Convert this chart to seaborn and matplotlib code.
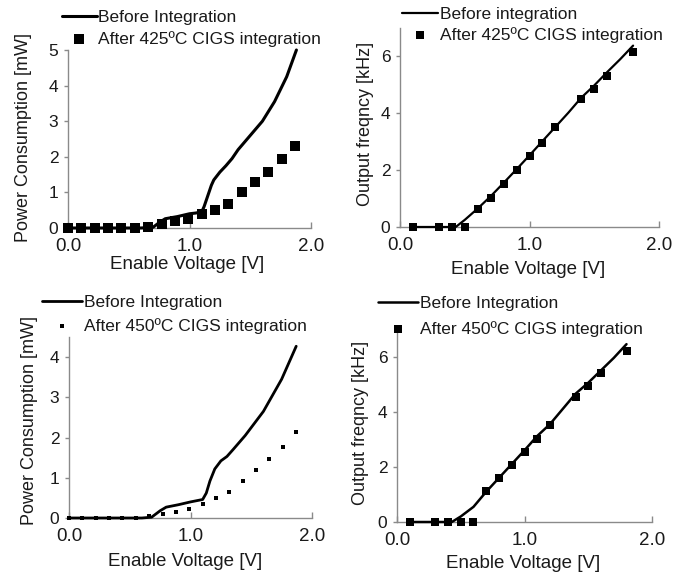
import matplotlib
matplotlib.use("Agg")
import matplotlib.pyplot as plt
import numpy as np
import pandas as pd
import seaborn as sns

# ---------------- data ----------------
# Top-left: power consumption, 425 C
p1_line_v = [0.0, 0.1, 0.2, 0.3, 0.4, 0.5, 0.6, 0.7, 0.75, 0.8, 0.9, 1.0, 1.05, 1.1, 1.12, 1.15, 1.18, 1.2, 1.25, 1.3, 1.35, 1.4, 1.5, 1.6, 1.7, 1.8, 1.88]
p1_line_p = [0, 0, 0, 0, 0, 0, 0, 0.02, 0.15, 0.26, 0.32, 0.40, 0.42, 0.45, 0.60, 0.90, 1.20, 1.35, 1.57, 1.75, 1.95, 2.2, 2.6, 3.0, 3.55, 4.25, 5.0]
p1_sq_v = [0.0, 0.11, 0.22, 0.33, 0.44, 0.55, 0.66, 0.77, 0.88, 0.99, 1.1, 1.21, 1.32, 1.43, 1.54, 1.65, 1.76, 1.87]
p1_sq_p = [0, 0, 0, 0, 0, 0, 0.02, 0.12, 0.19, 0.25, 0.40, 0.51, 0.67, 1.01, 1.28, 1.58, 1.93, 2.29]

# Top-right: output frequency, 425 C
p2_line_v = [0.1, 0.3, 0.4, 0.43, 0.5, 0.6, 0.7, 0.8, 0.9, 1.0, 1.1, 1.2, 1.3, 1.4, 1.5, 1.6, 1.7, 1.8]
p2_line_f = [0, 0, 0, 0, 0.25, 0.65, 1.08, 1.55, 2.03, 2.52, 3.02, 3.52, 4.02, 4.55, 4.98, 5.45, 5.9, 6.38]
p2_sq_v = [0.1, 0.3, 0.4, 0.5, 0.6, 0.7, 0.8, 0.9, 1.0, 1.1, 1.2, 1.4, 1.5, 1.6, 1.8]
p2_sq_f = [0, 0, 0, 0, 0.63, 1.03, 1.51, 2.0, 2.5, 2.97, 3.5, 4.5, 4.87, 5.32, 6.17]

# Bottom-left: power consumption, 450 C
p3_line_v = [0.0, 0.1, 0.2, 0.3, 0.4, 0.5, 0.6, 0.68, 0.75, 0.8, 0.9, 1.0, 1.05, 1.1, 1.13, 1.16, 1.2, 1.25, 1.3, 1.35, 1.45, 1.6, 1.75, 1.87]
p3_line_p = [0, 0, 0, 0, 0, 0, 0, 0.02, 0.18, 0.27, 0.33, 0.40, 0.43, 0.46, 0.62, 0.92, 1.22, 1.42, 1.53, 1.70, 2.05, 2.65, 3.45, 4.27]
p3_sq_v = [0.0, 0.11, 0.22, 0.33, 0.44, 0.55, 0.66, 0.77, 0.88, 0.99, 1.1, 1.21, 1.32, 1.43, 1.54, 1.65, 1.76, 1.87]
p3_sq_p = [0, 0, 0, 0, 0, 0, 0.05, 0.10, 0.15, 0.23, 0.35, 0.50, 0.64, 0.93, 1.19, 1.47, 1.76, 2.13]

# Bottom-right: output frequency, 450 C
p4_line_v = [0.1, 0.3, 0.4, 0.43, 0.5, 0.6, 0.7, 0.8, 0.9, 1.0, 1.1, 1.2, 1.3, 1.4, 1.5, 1.6, 1.7, 1.8]
p4_line_f = [0, 0, 0, 0, 0.2, 0.55, 1.1, 1.6, 2.1, 2.6, 3.12, 3.55, 4.1, 4.65, 5.05, 5.5, 5.95, 6.45]
p4_sq_v = [0.1, 0.3, 0.4, 0.5, 0.6, 0.7, 0.8, 0.9, 1.0, 1.1, 1.2, 1.4, 1.5, 1.6, 1.8]
p4_sq_f = [0, 0, 0, 0, 0, 1.11, 1.59, 2.08, 2.54, 3.02, 3.53, 4.53, 4.95, 5.39, 6.22]

x_ticks = [0, 1, 2]
x_tick_labels = ["0.0", "1.0", "2.0"]
x_label = "Enable Voltage [V]"
y_label_power = "Power Consumption [mW]"
y_label_freq = "Output freqncy [kHz]"

# ---------------- style ----------------
sns.set_style("ticks")
plt.rcParams["font.family"] = ["Liberation Sans", "DejaVu Sans"]

W, H = 691, 580
fig = plt.figure(figsize=(W / 100, H / 100), dpi=100)

SPINE = "#8a8a8a"
TXT = "#1a1a1a"


def make_axes(left, right, bottom, top):
    return fig.add_axes([left / W, 1 - bottom / H, (right - left) / W, (bottom - top) / H])


def style(ax, ymax, yticks, ylabel, xlab_xy, ylab_xy):
    ax.set_xlim(0, 2)
    ax.set_ylim(0, ymax)
    ax.set_xticks(x_ticks)
    ax.set_xticklabels(x_tick_labels)
    ax.set_yticks(yticks)
    ax.set_yticklabels([str(t) for t in yticks])
    for s in ["top", "right"]:
        ax.spines[s].set_visible(False)
    for s in ["left", "bottom"]:
        ax.spines[s].set_color(SPINE)
        ax.spines[s].set_linewidth(1.0)
    ax.tick_params(axis="x", direction="in", length=4, width=1, color=SPINE,
                   labelsize=13.5, pad=7, labelcolor=TXT)
    ax.tick_params(axis="y", direction="out", length=3, width=1, color=SPINE,
                   labelsize=12.5, pad=4, labelcolor=TXT)
    ax.set_xlabel(x_label, fontsize=13.5, color=TXT)
    ax.set_ylabel(ylabel, fontsize=13, color=TXT)
    ax.xaxis.set_label_coords(*xlab_xy)
    ax.yaxis.set_label_coords(*ylab_xy)
    ax.patch.set_visible(False)


def legend(ax, x_px, y_px, handlelength, spacing):
    leg = ax.legend(loc="upper left", bbox_to_anchor=(x_px / W, 1 - y_px / H),
                    bbox_transform=fig.transFigure, frameon=False, fontsize=12.5,
                    handlelength=handlelength, handletextpad=0.1, borderpad=0,
                    borderaxespad=0, labelspacing=spacing, scatterpoints=1)
    for t in leg.get_texts():
        t.set_color(TXT)


def panel(ax, lv, ly, sv, sy, lab_line, lab_sq, lw, ms):
    sns.lineplot(x=lv, y=ly, ax=ax, color="black", linewidth=lw, label=lab_line,
                 zorder=3, clip_on=False)
    sns.scatterplot(x=sv, y=sy, ax=ax, color="black", marker="s", s=ms,
                    edgecolor="black", linewidth=0, label=lab_sq, zorder=4, clip_on=False)


# Top-left
ax1 = make_axes(68, 311, 228, 50)
panel(ax1, p1_line_v, p1_line_p, p1_sq_v, p1_sq_p,
      "Before Integration", "After 425\u00baC CIGS integration", 2.2, 52)
style(ax1, 5, [0, 1, 2, 3, 4, 5], y_label_power, (0.49, -0.157), (-0.148, 0.51))
legend(ax1, 62, 10, 2.0, 0.32)

# Top-right
ax2 = make_axes(400, 659, 227, 28)
panel(ax2, p2_line_v, p2_line_f, p2_sq_v, p2_sq_f,
      "Before integration", "After 425\u00baC CIGS integration", 1.6, 34)
style(ax2, 7, [0, 2, 4, 6], y_label_freq, (0.494, -0.171), (-0.100, 0.518))
legend(ax2, 402, 7, 2.1, 0.26)

# Bottom-left
ax3 = make_axes(69, 312, 518, 337)
panel(ax3, p3_line_v, p3_line_p, p3_sq_v, p3_sq_p,
      "Before Integration", "After 450\u00baC CIGS integration", 2.0, 9)
style(ax3, 4.5, [0, 1, 2, 3, 4], y_label_power, (0.477, -0.193), (-0.128, 0.54))
legend(ax3, 42, 295, 2.3, 0.43)

# Bottom-right
ax4 = make_axes(397, 652, 522, 329)
panel(ax4, p4_line_v, p4_line_f, p4_sq_v, p4_sq_f,
      "Before Integration", "After 450\u00baC CIGS integration", 1.8, 26)
style(ax4, 7, [0, 2, 4, 6], y_label_freq, (0.494, -0.171), (-0.11, 0.513))
legend(ax4, 378, 296, 2.3, 0.55)

fig.savefig("out.png", dpi=100, facecolor="white")
